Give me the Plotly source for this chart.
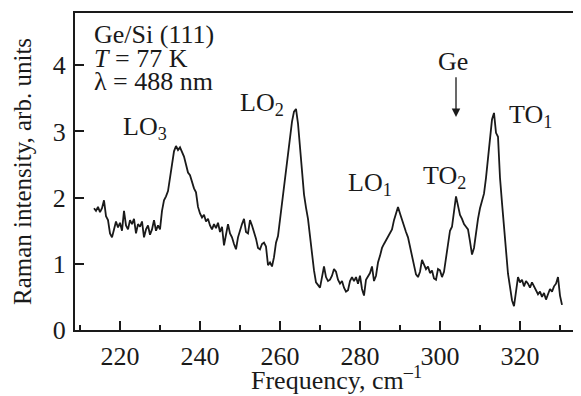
import plotly.graph_objects as go

frequency = [
    213.5, 214.0, 214.5, 215.0, 215.5, 216.0, 216.5, 217.0, 217.5, 218.0,
    218.5, 219.0, 219.5, 220.0, 220.5, 221.0, 221.5, 222.0, 222.5, 223.0,
    223.5, 224.0, 224.5, 225.0, 225.5, 226.0, 226.5, 227.0, 227.5, 228.0,
    228.5, 229.0, 229.5, 230.0, 230.5, 231.0, 231.5, 232.0, 232.5, 233.0,
    233.5, 234.0, 234.5, 235.0, 235.5, 236.0, 236.5, 237.0, 237.5, 238.0,
    238.5, 239.0, 239.5, 240.0, 240.5, 241.0, 241.5, 242.0, 242.5, 243.0,
    243.5, 244.0, 244.5, 245.0, 245.5, 246.0, 246.5, 247.0, 247.5, 248.0,
    248.5, 249.0, 249.5, 250.0, 250.5, 251.0, 251.5, 252.0, 252.5, 253.0,
    253.5, 254.0, 254.5, 255.0, 255.5, 256.0, 256.5, 257.0, 257.5, 258.0,
    258.5, 259.0, 259.5, 260.0, 260.5, 261.0, 261.5, 262.0, 262.5, 263.0,
    263.5, 264.0, 264.5, 265.0, 265.5, 266.0, 266.5, 267.0, 267.5, 268.0,
    268.5, 269.0, 269.5, 270.0, 270.5, 271.0, 271.5, 272.0, 272.5, 273.0,
    273.5, 274.0, 274.5, 275.0, 275.5, 276.0, 276.5, 277.0, 277.5, 278.0,
    278.5, 279.0, 279.5, 280.0, 280.5, 281.0, 281.5, 282.0, 282.5, 283.0,
    283.5, 284.0, 284.5, 285.0, 285.5, 286.0, 286.5, 287.0, 287.5, 288.0,
    288.5, 289.0, 289.5, 290.0, 290.5, 291.0, 291.5, 292.0, 292.5, 293.0,
    293.5, 294.0, 294.5, 295.0, 295.5, 296.0, 296.5, 297.0, 297.5, 298.0,
    298.5, 299.0, 299.5, 300.0, 300.5, 301.0, 301.5, 302.0, 302.5, 303.0,
    303.5, 304.0, 304.5, 305.0, 305.5, 306.0, 306.5, 307.0, 307.5, 308.0,
    308.5, 309.0, 309.5, 310.0, 310.5, 311.0, 311.5, 312.0, 312.5, 313.0,
    313.5, 314.0, 314.5, 315.0, 315.5, 316.0, 316.5, 317.0, 317.5, 318.0,
    318.5, 319.0, 319.5, 320.0, 320.5, 321.0, 321.5, 322.0, 322.5, 323.0,
    323.5, 324.0, 324.5, 325.0, 325.5, 326.0, 326.5, 327.0, 327.5, 328.0,
    328.5, 329.0, 329.5, 330.0, 330.5,
]

intensity = [
    1.84, 1.80, 1.86, 1.78, 1.84, 1.96, 1.72, 1.66, 1.46, 1.40,
    1.52, 1.64, 1.55, 1.62, 1.50, 1.80, 1.58, 1.52, 1.66, 1.60,
    1.68, 1.46, 1.60, 1.56, 1.64, 1.40, 1.52, 1.58, 1.44, 1.52,
    1.66, 1.50, 1.58, 1.52, 1.80, 1.96, 2.02, 2.10, 2.30, 2.52,
    2.70, 2.78, 2.72, 2.76, 2.70, 2.62, 2.50, 2.38, 2.34, 2.22,
    2.14, 2.08, 1.86, 1.76, 1.70, 1.74, 1.64, 1.68, 1.58, 1.52,
    1.60, 1.54, 1.62, 1.48, 1.56, 1.28, 1.44, 1.60, 1.46, 1.40,
    1.30, 1.22, 1.40, 1.52, 1.60, 1.68, 1.48, 1.46, 1.66, 1.58,
    1.48, 1.38, 1.24, 1.22, 1.30, 1.32, 1.26, 0.98, 1.02, 0.96,
    1.10, 1.32, 1.42, 1.66, 1.92, 2.15, 2.42, 2.70, 2.95, 3.15,
    3.30, 3.34, 3.12, 2.72, 2.35, 2.05, 1.85, 1.68, 1.42, 1.12,
    0.90, 0.72, 0.68, 0.64, 0.80, 0.96, 0.80, 0.74, 0.76, 0.82,
    0.92, 0.88, 0.76, 0.70, 0.74, 0.64, 0.58, 0.60, 0.74, 0.80,
    0.74, 0.80, 0.70, 0.82, 0.62, 0.52, 0.76, 0.82, 0.86, 0.96,
    0.74, 0.82, 1.02, 1.12, 1.24, 1.30, 1.36, 1.42, 1.48, 1.52,
    1.66, 1.78, 1.86, 1.76, 1.66, 1.56, 1.48, 1.40, 1.26, 1.12,
    0.96, 0.84, 0.80, 0.88, 1.06, 0.98, 0.92, 0.96, 0.86, 0.90,
    0.78, 0.76, 0.92, 0.90, 0.80, 0.88, 1.10, 1.36, 1.50, 1.56,
    1.80, 2.02, 1.88, 1.74, 1.68, 1.60, 1.56, 1.52, 1.34, 1.14,
    1.24, 1.48, 1.68, 1.84, 1.94, 2.06, 2.30, 2.60, 2.92, 3.18,
    3.28, 2.98, 2.92, 2.30, 1.92, 1.55, 1.10, 0.85, 0.65, 0.45,
    0.36, 0.62, 0.80, 0.72, 0.76, 0.66, 0.74, 0.70, 0.64, 0.72,
    0.66, 0.62, 0.54, 0.58, 0.50, 0.56, 0.46, 0.54, 0.62, 0.58,
    0.66, 0.70, 0.80, 0.52, 0.38,
]

x_ticks = [220, 240, 260, 280, 300, 320]
y_ticks = [0, 1, 2, 3, 4]

peak_labels = ["LO<sub>3</sub>", "LO<sub>2</sub>", "LO<sub>1</sub>", "TO<sub>2</sub>", "TO<sub>1</sub>"]
peak_label_x = [226.3, 255.6, 282.6, 301.1, 322.6]
peak_label_y = [3.05, 3.41, 2.20, 2.31, 3.23]

info_lines = ["Ge/Si (111)", "<i>T</i> = 77 K", "λ = 488 nm"]
info_y = [4.46, 4.11, 3.76]

FONT = "Liberation Serif"
INK = "#1a1a1a"

fig = go.Figure()
fig.add_trace(go.Scatter(
    x=frequency, y=intensity, mode="lines",
    line=dict(color=INK, width=1.8),
    showlegend=False, hoverinfo="skip",
))

for txt, xx, yy in zip(peak_labels, peak_label_x, peak_label_y):
    fig.add_annotation(x=xx, y=yy, text=txt, showarrow=False,
                       xanchor="center", yanchor="middle",
                       font=dict(family=FONT, size=26, color=INK))

for txt, yy in zip(info_lines, info_y):
    fig.add_annotation(x=213.0, y=yy, text=txt, showarrow=False,
                       xanchor="left", yanchor="middle",
                       font=dict(family=FONT, size=26, color=INK))

fig.add_annotation(x=303.3, y=4.05, text="Ge", showarrow=False,
                   xanchor="center", yanchor="middle",
                   font=dict(family=FONT, size=26, color=INK))
fig.add_annotation(x=304.0, y=3.22, ax=304.0, ay=3.84, axref="x", ayref="y",
                   xref="x", yref="y", text="", showarrow=True,
                   arrowhead=2, arrowsize=1.3, arrowwidth=1.3, arrowcolor=INK)

# x-axis title (placed as annotation so it sits closer to the tick labels)
fig.add_annotation(x=274.0, xref="x", y=-0.152, yref="paper",
                   text="Frequency, cm<sup>–1</sup>", showarrow=False,
                   xanchor="center", yanchor="middle",
                   font=dict(family=FONT, size=26, color=INK))

fig.update_layout(
    width=581, height=396,
    margin=dict(l=67, r=0, t=5, b=74),
    paper_bgcolor="white", plot_bgcolor="white",
    font=dict(family=FONT, size=26, color=INK),
    xaxis=dict(
        range=[208.75, 337.25], automargin=False,
        tickvals=x_ticks, ticks="inside", ticklen=9, tickwidth=1.5, tickcolor=INK,
        minor=dict(dtick=10, tick0=210, ticks="inside", ticklen=5, tickwidth=1.5, tickcolor=INK),
        showline=True, linewidth=2, linecolor=INK, mirror=True,
        showgrid=False, zeroline=False,
        tickfont=dict(family=FONT, size=26, color=INK),
        ticklabelstandoff=2,
    ),
    yaxis=dict(
        range=[0, 4.79], automargin=False,
        tickvals=y_ticks, ticks="inside", ticklen=9, tickwidth=1.5, tickcolor=INK,
        showline=True, linewidth=2, linecolor=INK, mirror=False,
        showgrid=False, zeroline=False,
        tickfont=dict(family=FONT, size=26, color=INK),
        ticklabelstandoff=2,
        title=dict(text="Raman intensity, arb. units", font=dict(family=FONT, size=25, color=INK), standoff=14),
    ),
)

fig.write_html("out.html")
